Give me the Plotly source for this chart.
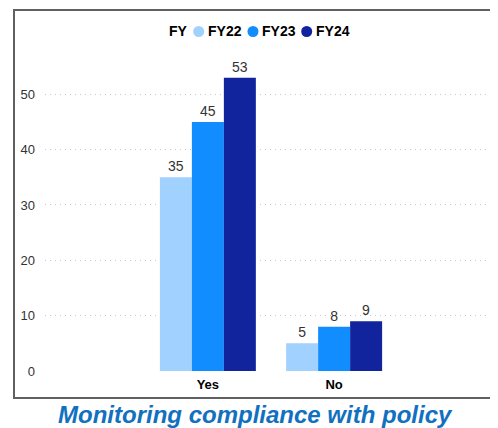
import plotly.graph_objects as go

categories = ["Yes", "No"]
series_names = ["FY22", "FY23", "FY24"]
fy22 = [35, 5]
fy23 = [45, 8]
fy24 = [53, 9]
series_values = [fy22, fy23, fy24]
colors = ["#A0D1FF", "#118DFF", "#12239E"]
legend_title = "FY"
chart_title = "Monitoring compliance with policy"

FONT = "Arial, Liberation Sans"
fig = go.Figure()
for name, vals, col in zip(series_names, series_values, colors):
    fig.add_trace(go.Bar(
        x=categories, y=vals, name=name,
        marker=dict(color=col, line=dict(width=0)),
        text=[str(v) for v in vals], textposition="outside",
        textfont=dict(family=FONT, size=14, color="#333333"),
        cliponaxis=False, showlegend=False,
    ))

# page is rendered with an 8px body margin; work in page pixels
OFF = 8
W, H = 490, 420
L, R, T, B = 37, 1, 52, 57
pw, ph = W - L - R, H - T - B

def px_x(x):
    return (x - OFF - L) / pw

def px_y(y):
    return (H - B - (y - OFF)) / ph

shapes = [
    dict(type="line", xref="paper", yref="paper", x0=px_x(14), x1=px_x(14), y0=px_y(10), y1=px_y(398),
         line=dict(color="#606060", width=2)),
    dict(type="line", xref="paper", yref="paper", x0=px_x(13), x1=px_x(505), y0=px_y(10), y1=px_y(10),
         line=dict(color="#606060", width=2)),
    dict(type="line", xref="paper", yref="paper", x0=px_x(13), x1=px_x(505), y0=px_y(398), y1=px_y(398),
         line=dict(color="#606060", width=2)),
]
annotations = [
    dict(text=f"<b>{legend_title}</b>", xref="paper", yref="paper", x=px_x(167), y=px_y(31.5),
         xanchor="left", yanchor="middle", showarrow=False,
         font=dict(family=FONT, size=14, color="#000000")),
]
circle_x = [198.7, 253, 306.7]
text_x = [205.5, 259.8, 313.5]
for name, col, cx, tx in zip(series_names, colors, circle_x, text_x):
    shapes.append(dict(type="circle", xref="paper", yref="paper", xsizemode="pixel", ysizemode="pixel",
                       xanchor=px_x(cx), yanchor=px_y(31.5), x0=-5.5, x1=5.5, y0=-5.5, y1=5.5,
                       fillcolor=col, line=dict(width=0)))
    annotations.append(dict(text=f"<b>{name}</b>", xref="paper", yref="paper", x=px_x(tx), y=px_y(31.5),
                            xanchor="left", yanchor="middle", showarrow=False,
                            font=dict(family=FONT, size=14, color="#000000")))
annotations.append(dict(text=f"<b><i>{chart_title}</i></b>", xref="paper", yref="paper",
                        x=px_x(255), y=px_y(414), xanchor="center", yanchor="middle", showarrow=False,
                        font=dict(family=FONT, size=24, color="#1170C0")))

fig.update_layout(
    width=W, height=H,
    margin=dict(l=L, r=R, t=T, b=B, pad=0),
    paper_bgcolor="white", plot_bgcolor="white",
    barmode="group", bargap=0.24, bargroupgap=0,
    font=dict(family=FONT, size=13, color="#333333"),
    xaxis=dict(range=[-1.29, 2.29], showgrid=False, zeroline=False, showline=False,
               ticklabelstandoff=4,
               tickfont=dict(family=FONT, size=13, color="#000000", weight="bold")),
    yaxis=dict(range=[0, 56.2], dtick=10, showgrid=True, gridcolor="#C8C8C8", griddash="1px,4px",
               gridwidth=1, zeroline=False, showline=False, ticklabelstandoff=9,
               tickfont=dict(family=FONT, size=13, color="#333333")),
    shapes=shapes,
    annotations=annotations,
)

fig.write_html("out.html")
